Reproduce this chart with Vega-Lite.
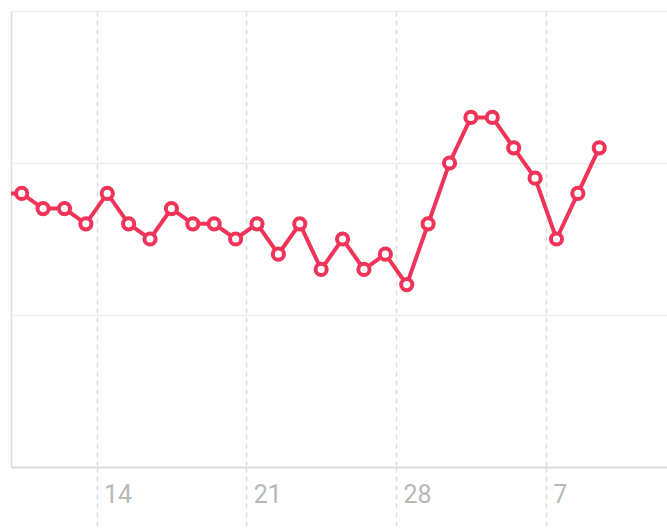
{
  "$schema": "https://vega.github.io/schema/vega-lite/v6.json",
  "autosize": "none",
  "width": 656,
  "height": 456,
  "padding": {"left": 11, "top": 11, "right": 0, "bottom": 61},
  "background": "white",
  "config": {"view": {"stroke": null}},
  "data": {
    "values": [
      {"date": "2021-02-09T12:00:00Z", "value": 18},
      {"date": "2021-02-10T12:00:00Z", "value": 18},
      {"date": "2021-02-11T12:00:00Z", "value": 17},
      {"date": "2021-02-12T12:00:00Z", "value": 17},
      {"date": "2021-02-13T12:00:00Z", "value": 16},
      {"date": "2021-02-14T12:00:00Z", "value": 18},
      {"date": "2021-02-15T12:00:00Z", "value": 16},
      {"date": "2021-02-16T12:00:00Z", "value": 15},
      {"date": "2021-02-17T12:00:00Z", "value": 17},
      {"date": "2021-02-18T12:00:00Z", "value": 16},
      {"date": "2021-02-19T12:00:00Z", "value": 16},
      {"date": "2021-02-20T12:00:00Z", "value": 15},
      {"date": "2021-02-21T12:00:00Z", "value": 16},
      {"date": "2021-02-22T12:00:00Z", "value": 14},
      {"date": "2021-02-23T12:00:00Z", "value": 16},
      {"date": "2021-02-24T12:00:00Z", "value": 13},
      {"date": "2021-02-25T12:00:00Z", "value": 15},
      {"date": "2021-02-26T12:00:00Z", "value": 13},
      {"date": "2021-02-27T12:00:00Z", "value": 14},
      {"date": "2021-02-28T12:00:00Z", "value": 12},
      {"date": "2021-03-01T12:00:00Z", "value": 16},
      {"date": "2021-03-02T12:00:00Z", "value": 20},
      {"date": "2021-03-03T12:00:00Z", "value": 23},
      {"date": "2021-03-04T12:00:00Z", "value": 23},
      {"date": "2021-03-05T12:00:00Z", "value": 21},
      {"date": "2021-03-06T12:00:00Z", "value": 19},
      {"date": "2021-03-07T12:00:00Z", "value": 15},
      {"date": "2021-03-08T12:00:00Z", "value": 18},
      {"date": "2021-03-09T12:00:00Z", "value": 21}
    ]
  },
  "encoding": {
    "x": {
      "field": "date",
      "type": "temporal",
      "scale": {
        "type": "utc",
        "domain": [
          {"year": 2021, "month": 2, "date": 10, "hours": 0, "utc": true},
          {"year": 2021, "month": 3, "date": 12, "hours": 16, "utc": true}
        ]
      },
      "axis": {
        "title": null,
        "values": [
          {"year": 2021, "month": 2, "date": 14, "utc": true},
          {"year": 2021, "month": 2, "date": 21, "utc": true},
          {"year": 2021, "month": 2, "date": 28, "utc": true},
          {"year": 2021, "month": 3, "date": 7, "utc": true}
        ],
        "labelExpr": "utcFormat(datum.value, '%-d')",
        "grid": true,
        "gridColor": "#dddddd",
        "gridWidth": 1.5,
        "gridDash": [5, 4],
        "ticks": true,
        "tickSize": 60,
        "tickColor": "#dddddd",
        "tickWidth": 1.5,
        "tickDash": [5, 4],
        "domain": true,
        "domainColor": "#dedede",
        "domainWidth": 2,
        "labelFont": "Roboto",
        "labelFontSize": 25,
        "labelColor": "#b8b8b8",
        "labelAlign": "left",
        "labelBaseline": "top",
        "labelOffset": 7,
        "labelPadding": -45,
        "labelFlush": false,
        "labelOverlap": false
      }
    },
    "y": {
      "field": "value",
      "type": "quantitative",
      "scale": {"domain": [0, 30], "nice": false, "zero": true},
      "axis": {
        "title": null,
        "values": [0, 10, 20, 30],
        "labels": false,
        "ticks": false,
        "grid": true,
        "gridColor": "#eeeeee",
        "gridWidth": 1.5,
        "domain": true,
        "domainColor": "#dedede",
        "domainWidth": 1.5
      }
    }
  },
  "layer": [
    {
      "mark": {"type": "line", "color": "#ef3359", "strokeWidth": 4, "clip": true}
    },
    {
      "mark": {"type": "point", "shape": "circle", "filled": true, "fill": "white", "stroke": "#ef3359", "strokeWidth": 4, "size": 125, "opacity": 1, "clip": true}
    }
  ]
}
